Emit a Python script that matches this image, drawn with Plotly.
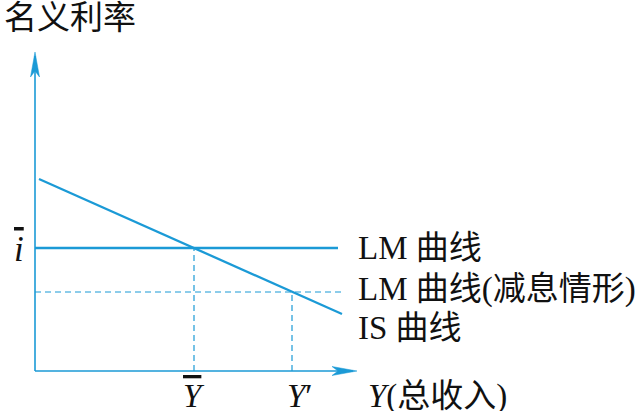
import plotly.graph_objects as go

# ---- data (chart units) ----
IS_x = [4, 307]
IS_y = [192, 57]
LM_x = [0, 303]
LM_y = [123, 123]
LM2_x = [0, 308]
LM2_y = [79, 79]
Y_bar = 159
Y_prime = 257
X_AXIS_END = 322
Y_AXIS_END = 319

BLUE = "#1b9ad6"
FONT = "Liberation Serif, Noto Sans CJK SC"
FS = 33

fig = go.Figure()

# axes
fig.add_trace(go.Scatter(x=[0, X_AXIS_END - 4], y=[0, 0], mode="lines",
                         line=dict(color=BLUE, width=1.6), hoverinfo="skip"))
fig.add_trace(go.Scatter(x=[0, 0], y=[0, Y_AXIS_END - 4], mode="lines",
                         line=dict(color=BLUE, width=1.6), hoverinfo="skip"))

# dashed guides
fig.add_trace(go.Scatter(x=LM2_x, y=LM2_y, mode="lines",
                         line=dict(color=BLUE, width=1.2, dash="6px,4px"), hoverinfo="skip"))
fig.add_trace(go.Scatter(x=[Y_bar, Y_bar], y=[0, LM_y[0]], mode="lines",
                         line=dict(color=BLUE, width=1.2, dash="6px,4px"), hoverinfo="skip"))
fig.add_trace(go.Scatter(x=[Y_prime, Y_prime], y=[0, LM2_y[0]], mode="lines",
                         line=dict(color=BLUE, width=1.2, dash="6px,4px"), hoverinfo="skip"))

# solid curves
fig.add_trace(go.Scatter(x=LM_x, y=LM_y, mode="lines",
                         line=dict(color=BLUE, width=2.3), hoverinfo="skip"))
fig.add_trace(go.Scatter(x=IS_x, y=IS_y, mode="lines",
                         line=dict(color=BLUE, width=2.3), hoverinfo="skip"))

# arrowheads (pixel-sized, anchored at axis ends)
fig.add_shape(type="path", xref="x", yref="y", xsizemode="pixel", ysizemode="pixel",
              xanchor=X_AXIS_END, yanchor=0,
              path="M0,0 L-25,4.5 L-19,0 L-25,-4.5 Z",
              fillcolor=BLUE, line=dict(color=BLUE, width=0.5))
fig.add_shape(type="path", xref="x", yref="y", xsizemode="pixel", ysizemode="pixel",
              xanchor=0, yanchor=Y_AXIS_END,
              path="M0,0 L4.5,-25 L0,-19 L-4.5,-25 Z",
              fillcolor=BLUE, line=dict(color=BLUE, width=0.5))

def label(x, y, text, xanchor="left", size=FS, xshift=0):
    fig.add_annotation(x=x, y=y, xref="x", yref="y", text=text, showarrow=False,
                       xanchor=xanchor, yanchor="middle", xshift=xshift,
                       font=dict(family=FONT, size=size, color="#111111"))

label(-33, 353, "名义利率")
label(-16, 122, "<i><span style='text-decoration:overline'>i</span></i>", xanchor="center", size=35)
label(321, 123, "LM 曲线")
label(321, 82, "LM 曲线(减息情形)")
label(321, 43, "IS 曲线")
label(Y_bar, -25, "<i><span style='text-decoration:overline'>Y</span></i>", xanchor="center")
label(Y_prime, -25, "<i>Y</i>′", xanchor="center", xshift=8)
label(331, -25, "<i>Y</i>(总收入)")

fig.update_layout(
    width=643, height=411,
    margin=dict(l=0, r=0, t=0, b=0),
    paper_bgcolor="white", plot_bgcolor="white",
    showlegend=False,
    xaxis=dict(range=[-35, 608], visible=False, fixedrange=True),
    yaxis=dict(range=[-40, 371], visible=False, fixedrange=True),
)

fig.write_html(
    "out.html",
    config={"displayModeBar": False},
    post_script="document.body.style.margin='0';document.body.style.overflow='hidden';",
)
